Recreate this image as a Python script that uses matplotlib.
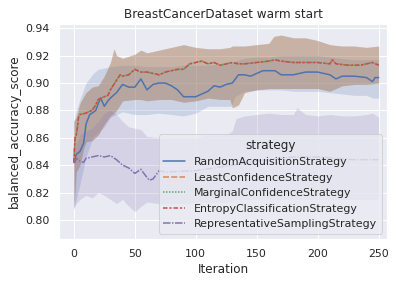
import matplotlib
matplotlib.use("Agg")
import matplotlib.pyplot as plt
import seaborn as sns

sns.set_theme()

title = "BreastCancerDataset warm start"
strategies = ["RandomAcquisitionStrategy", "LeastConfidenceStrategy",
              "MarginalConfidenceStrategy", "EntropyClassificationStrategy",
              "RepresentativeSamplingStrategy"]

# random acquisition
rnd_x = [0, 2, 5, 8, 10, 13, 15, 18, 20, 22, 25, 28, 30, 35, 40, 45, 50, 55, 60, 65,
         70, 75, 80, 85, 90, 95, 100, 105, 110, 115, 120, 125, 130, 135, 140, 145,
         150, 155, 160, 165, 170, 180, 190, 200, 210, 215, 220, 230, 240, 245, 247, 250]
rnd_mean = [0.842, 0.848, 0.850, 0.856, 0.870, 0.877, 0.878, 0.880, 0.885, 0.889,
            0.883, 0.887, 0.889, 0.893, 0.899, 0.897, 0.897, 0.903, 0.895, 0.899,
            0.900, 0.900, 0.898, 0.895, 0.890, 0.890, 0.890, 0.892, 0.894, 0.898,
            0.897, 0.899, 0.900, 0.906, 0.906, 0.905, 0.907, 0.909, 0.909, 0.909,
            0.906, 0.906, 0.908, 0.908, 0.906, 0.903, 0.905, 0.905, 0.904, 0.901,
            0.904, 0.904]
rnd_band_x = [0, 2, 5, 10, 16, 20, 25, 30, 40, 50, 60, 70, 80, 90, 100, 110, 120,
              129, 132, 140, 150, 160, 170, 180, 190, 200, 210, 220, 230, 240, 245, 250]
rnd_lo = [0.808, 0.815, 0.826, 0.846, 0.861, 0.864, 0.868, 0.875, 0.879, 0.877,
          0.877, 0.878, 0.877, 0.876, 0.878, 0.883, 0.883, 0.883, 0.890, 0.894,
          0.895, 0.895, 0.895, 0.894, 0.894, 0.894, 0.893, 0.892, 0.891, 0.891,
          0.889, 0.889]
rnd_hi = [0.872, 0.880, 0.888, 0.900, 0.907, 0.910, 0.911, 0.912, 0.913, 0.913,
          0.912, 0.912, 0.912, 0.913, 0.913, 0.913, 0.914, 0.914, 0.916, 0.918,
          0.919, 0.919, 0.920, 0.920, 0.920, 0.920, 0.919, 0.918, 0.917, 0.917,
          0.917, 0.917]

# uncertainty based strategies (nearly identical)
unc_x = [0, 1, 2, 3, 4, 5, 10, 12, 15, 18, 20, 25, 28, 30, 35, 38, 40, 45, 50, 55,
         60, 65, 70, 75, 80, 85, 90, 95, 100, 105, 110, 115, 120, 125, 130, 135, 140,
         150, 160, 165, 170, 180, 190, 200, 210, 212, 215, 225, 235, 240, 245, 250]
least_mean = [0.842, 0.860, 0.862, 0.868, 0.876, 0.877, 0.878, 0.879, 0.880, 0.884,
              0.888, 0.890, 0.891, 0.895, 0.902, 0.906, 0.905, 0.906, 0.910, 0.908,
              0.908, 0.907, 0.906, 0.908, 0.909, 0.910, 0.910, 0.914, 0.915, 0.916,
              0.914, 0.915, 0.913, 0.914, 0.915, 0.914, 0.914, 0.915, 0.916, 0.917,
              0.916, 0.915, 0.915, 0.915, 0.914, 0.917, 0.914, 0.913, 0.913, 0.914,
              0.915, 0.913]
marginal_mean = [0.842, 0.859, 0.862, 0.868, 0.876, 0.877, 0.878, 0.879, 0.880, 0.884,
                 0.888, 0.890, 0.891, 0.895, 0.902, 0.906, 0.905, 0.906, 0.910, 0.908,
                 0.908, 0.907, 0.906, 0.908, 0.909, 0.910, 0.910, 0.914, 0.915, 0.916,
                 0.914, 0.915, 0.913, 0.914, 0.915, 0.914, 0.914, 0.915, 0.916, 0.917,
                 0.916, 0.915, 0.915, 0.915, 0.914, 0.917, 0.914, 0.913, 0.913, 0.914,
                 0.915, 0.913]
entropy_mean = [0.842, 0.860, 0.862, 0.868, 0.876, 0.877, 0.878, 0.879, 0.880, 0.884,
                0.888, 0.890, 0.891, 0.895, 0.902, 0.906, 0.905, 0.906, 0.910, 0.908,
                0.908, 0.907, 0.906, 0.908, 0.909, 0.910, 0.910, 0.914, 0.915, 0.916,
                0.914, 0.915, 0.913, 0.914, 0.915, 0.914, 0.914, 0.915, 0.916, 0.917,
                0.916, 0.915, 0.915, 0.915, 0.914, 0.917, 0.914, 0.913, 0.913, 0.914,
                0.915, 0.913]
unc_band_x = [0, 2, 5, 8, 10, 15, 20, 25, 30, 33, 35, 40, 50, 55, 60, 70, 80, 90, 100,
              110, 120, 128, 130, 135, 140, 150, 160, 164, 170, 180, 190, 200, 210,
              220, 230, 240, 250]
unc_lo = [0.808, 0.835, 0.840, 0.852, 0.857, 0.858, 0.862, 0.870, 0.876, 0.878, 0.880,
          0.887, 0.888, 0.888, 0.887, 0.888, 0.888, 0.886, 0.887, 0.889, 0.888, 0.888,
          0.882, 0.884, 0.893, 0.895, 0.896, 0.896, 0.896, 0.896, 0.896, 0.896, 0.894,
          0.898, 0.899, 0.899, 0.900]
unc_hi = [0.872, 0.875, 0.885, 0.890, 0.893, 0.897, 0.898, 0.905, 0.915, 0.925, 0.920,
          0.918, 0.921, 0.924, 0.922, 0.924, 0.926, 0.928, 0.926, 0.925, 0.925, 0.926,
          0.927, 0.927, 0.927, 0.928, 0.929, 0.934, 0.935, 0.933, 0.933, 0.931, 0.928,
          0.927, 0.927, 0.926, 0.927]

# representative sampling
rep_x = [0, 1, 2, 5, 8, 10, 15, 20, 25, 30, 35, 40, 45, 50, 55, 60, 62, 65, 70, 75,
         100, 130, 150, 180, 200, 215, 230, 245, 250]
rep_mean = [0.842, 0.842, 0.845, 0.843, 0.842, 0.845, 0.846, 0.847, 0.846, 0.847,
            0.844, 0.840, 0.838, 0.834, 0.837, 0.831, 0.829, 0.830, 0.836, 0.835,
            0.836, 0.840, 0.843, 0.846, 0.846, 0.845, 0.844, 0.844, 0.844]
rep_band_x = [0, 2, 5, 10, 15, 20, 25, 30, 35, 40, 45, 50, 55, 60, 70, 80, 90, 100,
              110, 120, 125, 130, 133, 140, 150, 160, 170, 180, 183, 190, 200, 210,
              220, 230, 240, 245, 250]
rep_lo = [0.808, 0.812, 0.815, 0.818, 0.816, 0.820, 0.818, 0.815, 0.812, 0.815,
          0.810, 0.806, 0.810, 0.813, 0.812, 0.812, 0.812, 0.813, 0.813, 0.813,
          0.813, 0.814, 0.815, 0.815, 0.815, 0.815, 0.815, 0.815, 0.815, 0.815,
          0.815, 0.815, 0.815, 0.815, 0.815, 0.815, 0.815]
rep_hi = [0.845, 0.855, 0.862, 0.865, 0.867, 0.872, 0.878, 0.880, 0.877, 0.872,
          0.868, 0.867, 0.866, 0.861, 0.860, 0.860, 0.860, 0.860, 0.862, 0.862,
          0.862, 0.865, 0.874, 0.876, 0.877, 0.878, 0.877, 0.877, 0.882, 0.877,
          0.876, 0.877, 0.876, 0.876, 0.877, 0.878, 0.875]

pal = sns.color_palette("deep")
dashes = ["", (4, 1.5), (1, 1), (3, 1.25, 1.5, 1.25), (5, 1, 1, 1)]

fig = plt.figure(figsize=(400 / 72, 284 / 72), dpi=72)
ax = fig.add_axes([0.148, 0.158, 0.82, 0.757])

series = [
    (rnd_x, rnd_mean, rnd_band_x, rnd_lo, rnd_hi),
    (unc_x, least_mean, unc_band_x, unc_lo, unc_hi),
    (unc_x, marginal_mean, unc_band_x, unc_lo, unc_hi),
    (unc_x, entropy_mean, unc_band_x, unc_lo, unc_hi),
    (rep_x, rep_mean, rep_band_x, rep_lo, rep_hi),
]
for i, (x, m, bx, lo, hi) in enumerate(series):
    line, = ax.plot(x, m, color=pal[i], lw=1.5, label=strategies[i])
    if dashes[i]:
        line.set_dashes(dashes[i])
    ax.fill_between(bx, lo, hi, color=pal[i], alpha=0.2, linewidth=0)

ax.set_xlim(-12, 257)
ax.set_ylim(0.786, 0.943)
ax.set_yticks([0.80, 0.82, 0.84, 0.86, 0.88, 0.90, 0.92, 0.94])
ax.set_xlabel("Iteration", fontsize=12)
ax.set_ylabel("balanced_accuracy_score", fontsize=12)
ax.set_title(title, fontsize=12)
ax.tick_params(labelsize=11)
ax.legend(title="strategy", loc="lower right", fontsize=11, title_fontsize=12)

fig.savefig("out.png", dpi=72)
